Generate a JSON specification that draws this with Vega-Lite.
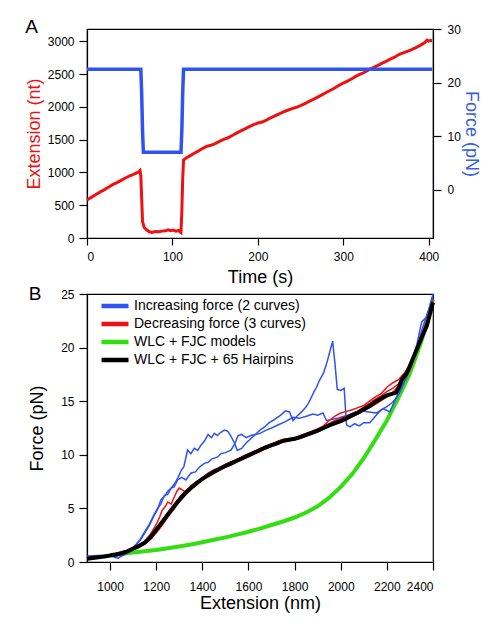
{
  "$schema": "https://vega.github.io/schema/vega-lite/v6.json",
  "padding": {"left": 24, "top": 17, "right": 10, "bottom": 0},
  "background": "white",
  "config": {
    "font": "Liberation Sans",
    "view": {"stroke": "black", "strokeWidth": 1.2},
    "axis": {
      "grid": false,
      "domainColor": "black",
      "tickColor": "black",
      "labelColor": "black",
      "labelFont": "Liberation Sans",
      "titleFont": "Liberation Sans",
      "labelFontSize": 12,
      "titleFontSize": 18,
      "titleFontWeight": "normal",
      "tickSize": 8,
      "labelPadding": 4,
      "domainWidth": 1.2,
      "tickWidth": 1.2,
      "format": "d"
    },
    "legend": {"labelFont": "Liberation Sans"}
  },
  "spacing": -3,
  "resolve": {"legend": {"color": "independent"}},
  "datasets": {
    "ext": [
      {"t": 0, "v": 580}, {"t": 5, "v": 620}, {"t": 10, "v": 660}, {"t": 15, "v": 700}, {"t": 20, "v": 735},
      {"t": 25, "v": 775}, {"t": 30, "v": 815}, {"t": 35, "v": 845}, {"t": 40, "v": 880}, {"t": 45, "v": 915},
      {"t": 50, "v": 950}, {"t": 55, "v": 975}, {"t": 60, "v": 1005}, {"t": 62, "v": 1030}, {"t": 63, "v": 950},
      {"t": 64, "v": 600}, {"t": 65, "v": 250}, {"t": 67, "v": 160}, {"t": 70, "v": 120}, {"t": 73, "v": 95},
      {"t": 76, "v": 85}, {"t": 80, "v": 100}, {"t": 84, "v": 95}, {"t": 88, "v": 105}, {"t": 92, "v": 110},
      {"t": 95, "v": 125}, {"t": 98, "v": 110}, {"t": 101, "v": 120}, {"t": 104, "v": 105}, {"t": 107, "v": 115},
      {"t": 110, "v": 85}, {"t": 111, "v": 400}, {"t": 112, "v": 900}, {"t": 113, "v": 1190}, {"t": 116, "v": 1220},
      {"t": 120, "v": 1250}, {"t": 125, "v": 1290}, {"t": 130, "v": 1325}, {"t": 135, "v": 1365}, {"t": 140, "v": 1398},
      {"t": 145, "v": 1415}, {"t": 150, "v": 1440}, {"t": 155, "v": 1475}, {"t": 160, "v": 1505}, {"t": 165, "v": 1530},
      {"t": 170, "v": 1565}, {"t": 175, "v": 1600}, {"t": 180, "v": 1635}, {"t": 185, "v": 1665}, {"t": 190, "v": 1700},
      {"t": 195, "v": 1730}, {"t": 200, "v": 1755}, {"t": 205, "v": 1770}, {"t": 210, "v": 1800}, {"t": 215, "v": 1835},
      {"t": 220, "v": 1865}, {"t": 225, "v": 1895}, {"t": 230, "v": 1925}, {"t": 235, "v": 1950}, {"t": 240, "v": 1975},
      {"t": 245, "v": 1995}, {"t": 250, "v": 2020}, {"t": 255, "v": 2050}, {"t": 260, "v": 2085}, {"t": 265, "v": 2115},
      {"t": 270, "v": 2150}, {"t": 275, "v": 2185}, {"t": 280, "v": 2220}, {"t": 285, "v": 2255}, {"t": 290, "v": 2290},
      {"t": 295, "v": 2330}, {"t": 300, "v": 2365}, {"t": 305, "v": 2395}, {"t": 310, "v": 2430}, {"t": 315, "v": 2470},
      {"t": 320, "v": 2500}, {"t": 325, "v": 2530}, {"t": 330, "v": 2570}, {"t": 335, "v": 2600}, {"t": 340, "v": 2630},
      {"t": 345, "v": 2665}, {"t": 350, "v": 2695}, {"t": 355, "v": 2730}, {"t": 360, "v": 2760}, {"t": 365, "v": 2800},
      {"t": 370, "v": 2825}, {"t": 375, "v": 2850}, {"t": 380, "v": 2875}, {"t": 385, "v": 2905}, {"t": 390, "v": 2940},
      {"t": 395, "v": 2980}, {"t": 398, "v": 3020}, {"t": 400, "v": 3005}, {"t": 402, "v": 3015}, {"t": 404, "v": 3010}
    ],
    "force": [
      {"t": 0, "f": 22.5}, {"t": 63, "f": 22.5}, {"t": 64, "f": 18}, {"t": 65, "f": 11}, {"t": 66, "f": 7.0},
      {"t": 110, "f": 7.0}, {"t": 111, "f": 11}, {"t": 112, "f": 18}, {"t": 113, "f": 22.5}, {"t": 404, "f": 22.5}
    ],
    "curves": [
      {"series": "WLC + FJC models", "curve": "g", "x": 1000, "f": 0.65},
      {"series": "WLC + FJC models", "curve": "g", "x": 1050, "f": 0.75},
      {"series": "WLC + FJC models", "curve": "g", "x": 1100, "f": 0.88},
      {"series": "WLC + FJC models", "curve": "g", "x": 1150, "f": 1.0},
      {"series": "WLC + FJC models", "curve": "g", "x": 1200, "f": 1.12},
      {"series": "WLC + FJC models", "curve": "g", "x": 1250, "f": 1.28},
      {"series": "WLC + FJC models", "curve": "g", "x": 1300, "f": 1.45},
      {"series": "WLC + FJC models", "curve": "g", "x": 1350, "f": 1.63},
      {"series": "WLC + FJC models", "curve": "g", "x": 1400, "f": 1.85},
      {"series": "WLC + FJC models", "curve": "g", "x": 1450, "f": 2.07},
      {"series": "WLC + FJC models", "curve": "g", "x": 1500, "f": 2.3},
      {"series": "WLC + FJC models", "curve": "g", "x": 1550, "f": 2.55},
      {"series": "WLC + FJC models", "curve": "g", "x": 1600, "f": 2.82},
      {"series": "WLC + FJC models", "curve": "g", "x": 1650, "f": 3.12},
      {"series": "WLC + FJC models", "curve": "g", "x": 1700, "f": 3.45},
      {"series": "WLC + FJC models", "curve": "g", "x": 1750, "f": 3.78},
      {"series": "WLC + FJC models", "curve": "g", "x": 1800, "f": 4.15},
      {"series": "WLC + FJC models", "curve": "g", "x": 1850, "f": 4.62},
      {"series": "WLC + FJC models", "curve": "g", "x": 1900, "f": 5.2},
      {"series": "WLC + FJC models", "curve": "g", "x": 1950, "f": 6.0},
      {"series": "WLC + FJC models", "curve": "g", "x": 2000, "f": 7.0},
      {"series": "WLC + FJC models", "curve": "g", "x": 2050, "f": 8.2},
      {"series": "WLC + FJC models", "curve": "g", "x": 2100, "f": 9.7},
      {"series": "WLC + FJC models", "curve": "g", "x": 2150, "f": 11.4},
      {"series": "WLC + FJC models", "curve": "g", "x": 2200, "f": 13.2},
      {"series": "WLC + FJC models", "curve": "g", "x": 2250, "f": 15.3},
      {"series": "WLC + FJC models", "curve": "g", "x": 2300, "f": 17.6},
      {"series": "WLC + FJC models", "curve": "g", "x": 2350, "f": 20.6},
      {"series": "WLC + FJC models", "curve": "g", "x": 2400, "f": 24.5},

      {"series": "Increasing force (2 curves)", "curve": "b1", "x": 900, "f": 0.55},
      {"series": "Increasing force (2 curves)", "curve": "b1", "x": 950, "f": 0.6},
      {"series": "Increasing force (2 curves)", "curve": "b1", "x": 1000, "f": 0.6},
      {"series": "Increasing force (2 curves)", "curve": "b1", "x": 1020, "f": 0.45},
      {"series": "Increasing force (2 curves)", "curve": "b1", "x": 1035, "f": 0.35},
      {"series": "Increasing force (2 curves)", "curve": "b1", "x": 1050, "f": 0.55},
      {"series": "Increasing force (2 curves)", "curve": "b1", "x": 1080, "f": 0.9},
      {"series": "Increasing force (2 curves)", "curve": "b1", "x": 1104, "f": 1.4},
      {"series": "Increasing force (2 curves)", "curve": "b1", "x": 1130, "f": 2.0},
      {"series": "Increasing force (2 curves)", "curve": "b1", "x": 1150, "f": 2.7},
      {"series": "Increasing force (2 curves)", "curve": "b1", "x": 1170, "f": 3.4},
      {"series": "Increasing force (2 curves)", "curve": "b1", "x": 1190, "f": 4.3},
      {"series": "Increasing force (2 curves)", "curve": "b1", "x": 1206, "f": 4.9},
      {"series": "Increasing force (2 curves)", "curve": "b1", "x": 1220, "f": 5.8},
      {"series": "Increasing force (2 curves)", "curve": "b1", "x": 1235, "f": 6.1},
      {"series": "Increasing force (2 curves)", "curve": "b1", "x": 1250, "f": 6.6},
      {"series": "Increasing force (2 curves)", "curve": "b1", "x": 1265, "f": 6.9},
      {"series": "Increasing force (2 curves)", "curve": "b1", "x": 1280, "f": 7.3},
      {"series": "Increasing force (2 curves)", "curve": "b1", "x": 1295, "f": 7.9},
      {"series": "Increasing force (2 curves)", "curve": "b1", "x": 1310, "f": 8.6},
      {"series": "Increasing force (2 curves)", "curve": "b1", "x": 1320, "f": 8.9},
      {"series": "Increasing force (2 curves)", "curve": "b1", "x": 1336, "f": 10.45},
      {"series": "Increasing force (2 curves)", "curve": "b1", "x": 1350, "f": 10.1},
      {"series": "Increasing force (2 curves)", "curve": "b1", "x": 1365, "f": 10.6},
      {"series": "Increasing force (2 curves)", "curve": "b1", "x": 1380, "f": 10.4},
      {"series": "Increasing force (2 curves)", "curve": "b1", "x": 1394, "f": 10.9},
      {"series": "Increasing force (2 curves)", "curve": "b1", "x": 1410, "f": 11.3},
      {"series": "Increasing force (2 curves)", "curve": "b1", "x": 1425, "f": 11.9},
      {"series": "Increasing force (2 curves)", "curve": "b1", "x": 1440, "f": 11.6},
      {"series": "Increasing force (2 curves)", "curve": "b1", "x": 1452, "f": 12.0},
      {"series": "Increasing force (2 curves)", "curve": "b1", "x": 1465, "f": 11.8},
      {"series": "Increasing force (2 curves)", "curve": "b1", "x": 1480, "f": 12.1},
      {"series": "Increasing force (2 curves)", "curve": "b1", "x": 1496, "f": 12.3},
      {"series": "Increasing force (2 curves)", "curve": "b1", "x": 1510, "f": 12.2},
      {"series": "Increasing force (2 curves)", "curve": "b1", "x": 1525, "f": 11.7},
      {"series": "Increasing force (2 curves)", "curve": "b1", "x": 1539, "f": 11.1},
      {"series": "Increasing force (2 curves)", "curve": "b1", "x": 1552, "f": 10.4},
      {"series": "Increasing force (2 curves)", "curve": "b1", "x": 1570, "f": 10.6},
      {"series": "Increasing force (2 curves)", "curve": "b1", "x": 1590, "f": 11.1},
      {"series": "Increasing force (2 curves)", "curve": "b1", "x": 1610, "f": 11.5},
      {"series": "Increasing force (2 curves)", "curve": "b1", "x": 1630, "f": 11.9},
      {"series": "Increasing force (2 curves)", "curve": "b1", "x": 1650, "f": 12.3},
      {"series": "Increasing force (2 curves)", "curve": "b1", "x": 1670, "f": 12.6},
      {"series": "Increasing force (2 curves)", "curve": "b1", "x": 1690, "f": 13.0},
      {"series": "Increasing force (2 curves)", "curve": "b1", "x": 1706, "f": 13.2},
      {"series": "Increasing force (2 curves)", "curve": "b1", "x": 1720, "f": 13.4},
      {"series": "Increasing force (2 curves)", "curve": "b1", "x": 1740, "f": 13.7},
      {"series": "Increasing force (2 curves)", "curve": "b1", "x": 1760, "f": 14.1},
      {"series": "Increasing force (2 curves)", "curve": "b1", "x": 1778, "f": 14.0},
      {"series": "Increasing force (2 curves)", "curve": "b1", "x": 1793, "f": 13.2},
      {"series": "Increasing force (2 curves)", "curve": "b1", "x": 1810, "f": 13.6},
      {"series": "Increasing force (2 curves)", "curve": "b1", "x": 1830, "f": 14.0},
      {"series": "Increasing force (2 curves)", "curve": "b1", "x": 1851, "f": 14.5},
      {"series": "Increasing force (2 curves)", "curve": "b1", "x": 1865, "f": 15.0},
      {"series": "Increasing force (2 curves)", "curve": "b1", "x": 1880, "f": 15.7},
      {"series": "Increasing force (2 curves)", "curve": "b1", "x": 1895, "f": 16.3},
      {"series": "Increasing force (2 curves)", "curve": "b1", "x": 1909, "f": 17.0},
      {"series": "Increasing force (2 curves)", "curve": "b1", "x": 1925, "f": 17.6},
      {"series": "Increasing force (2 curves)", "curve": "b1", "x": 1940, "f": 18.6},
      {"series": "Increasing force (2 curves)", "curve": "b1", "x": 1955, "f": 19.8},
      {"series": "Increasing force (2 curves)", "curve": "b1", "x": 1965, "f": 20.6},
      {"series": "Increasing force (2 curves)", "curve": "b1", "x": 1975, "f": 18.5},
      {"series": "Increasing force (2 curves)", "curve": "b1", "x": 1985, "f": 16.1},
      {"series": "Increasing force (2 curves)", "curve": "b1", "x": 2000, "f": 16.0},
      {"series": "Increasing force (2 curves)", "curve": "b1", "x": 2015, "f": 16.2},
      {"series": "Increasing force (2 curves)", "curve": "b1", "x": 2025, "f": 12.8},
      {"series": "Increasing force (2 curves)", "curve": "b1", "x": 2040, "f": 12.6},
      {"series": "Increasing force (2 curves)", "curve": "b1", "x": 2060, "f": 12.9},
      {"series": "Increasing force (2 curves)", "curve": "b1", "x": 2080, "f": 12.7},
      {"series": "Increasing force (2 curves)", "curve": "b1", "x": 2100, "f": 13.0},
      {"series": "Increasing force (2 curves)", "curve": "b1", "x": 2126, "f": 13.0},
      {"series": "Increasing force (2 curves)", "curve": "b1", "x": 2150, "f": 13.6},
      {"series": "Increasing force (2 curves)", "curve": "b1", "x": 2175, "f": 14.2},
      {"series": "Increasing force (2 curves)", "curve": "b1", "x": 2200, "f": 14.5},
      {"series": "Increasing force (2 curves)", "curve": "b1", "x": 2225, "f": 14.9},
      {"series": "Increasing force (2 curves)", "curve": "b1", "x": 2245, "f": 15.4},
      {"series": "Increasing force (2 curves)", "curve": "b1", "x": 2260, "f": 16.0},
      {"series": "Increasing force (2 curves)", "curve": "b1", "x": 2275, "f": 16.8},
      {"series": "Increasing force (2 curves)", "curve": "b1", "x": 2290, "f": 17.6},
      {"series": "Increasing force (2 curves)", "curve": "b1", "x": 2310, "f": 18.8},
      {"series": "Increasing force (2 curves)", "curve": "b1", "x": 2330, "f": 20.3},
      {"series": "Increasing force (2 curves)", "curve": "b1", "x": 2351, "f": 22.4},
      {"series": "Increasing force (2 curves)", "curve": "b1", "x": 2370, "f": 22.8},
      {"series": "Increasing force (2 curves)", "curve": "b1", "x": 2385, "f": 23.8},
      {"series": "Increasing force (2 curves)", "curve": "b1", "x": 2400, "f": 25.0},

      {"series": "Increasing force (2 curves)", "curve": "b2", "x": 900, "f": 0.5},
      {"series": "Increasing force (2 curves)", "curve": "b2", "x": 950, "f": 0.55},
      {"series": "Increasing force (2 curves)", "curve": "b2", "x": 1000, "f": 0.6},
      {"series": "Increasing force (2 curves)", "curve": "b2", "x": 1030, "f": 0.55},
      {"series": "Increasing force (2 curves)", "curve": "b2", "x": 1050, "f": 0.7},
      {"series": "Increasing force (2 curves)", "curve": "b2", "x": 1080, "f": 1.0},
      {"series": "Increasing force (2 curves)", "curve": "b2", "x": 1104, "f": 1.4},
      {"series": "Increasing force (2 curves)", "curve": "b2", "x": 1130, "f": 2.1},
      {"series": "Increasing force (2 curves)", "curve": "b2", "x": 1150, "f": 2.8},
      {"series": "Increasing force (2 curves)", "curve": "b2", "x": 1170, "f": 3.5},
      {"series": "Increasing force (2 curves)", "curve": "b2", "x": 1190, "f": 4.4},
      {"series": "Increasing force (2 curves)", "curve": "b2", "x": 1206, "f": 5.0},
      {"series": "Increasing force (2 curves)", "curve": "b2", "x": 1220, "f": 5.4},
      {"series": "Increasing force (2 curves)", "curve": "b2", "x": 1235, "f": 6.2},
      {"series": "Increasing force (2 curves)", "curve": "b2", "x": 1250, "f": 6.3},
      {"series": "Increasing force (2 curves)", "curve": "b2", "x": 1265, "f": 6.9},
      {"series": "Increasing force (2 curves)", "curve": "b2", "x": 1278, "f": 7.0},
      {"series": "Increasing force (2 curves)", "curve": "b2", "x": 1293, "f": 7.65},
      {"series": "Increasing force (2 curves)", "curve": "b2", "x": 1310, "f": 7.9},
      {"series": "Increasing force (2 curves)", "curve": "b2", "x": 1329, "f": 7.65},
      {"series": "Increasing force (2 curves)", "curve": "b2", "x": 1340, "f": 8.0},
      {"series": "Increasing force (2 curves)", "curve": "b2", "x": 1351, "f": 8.3},
      {"series": "Increasing force (2 curves)", "curve": "b2", "x": 1370, "f": 8.4},
      {"series": "Increasing force (2 curves)", "curve": "b2", "x": 1390, "f": 8.9},
      {"series": "Increasing force (2 curves)", "curve": "b2", "x": 1409, "f": 9.2},
      {"series": "Increasing force (2 curves)", "curve": "b2", "x": 1425, "f": 9.3},
      {"series": "Increasing force (2 curves)", "curve": "b2", "x": 1440, "f": 9.6},
      {"series": "Increasing force (2 curves)", "curve": "b2", "x": 1467, "f": 9.8},
      {"series": "Increasing force (2 curves)", "curve": "b2", "x": 1480, "f": 10.1},
      {"series": "Increasing force (2 curves)", "curve": "b2", "x": 1500, "f": 10.2},
      {"series": "Increasing force (2 curves)", "curve": "b2", "x": 1525, "f": 10.45},
      {"series": "Increasing force (2 curves)", "curve": "b2", "x": 1540, "f": 11.0},
      {"series": "Increasing force (2 curves)", "curve": "b2", "x": 1555, "f": 11.8},
      {"series": "Increasing force (2 curves)", "curve": "b2", "x": 1570, "f": 11.9},
      {"series": "Increasing force (2 curves)", "curve": "b2", "x": 1590, "f": 11.6},
      {"series": "Increasing force (2 curves)", "curve": "b2", "x": 1610, "f": 11.8},
      {"series": "Increasing force (2 curves)", "curve": "b2", "x": 1630, "f": 11.9},
      {"series": "Increasing force (2 curves)", "curve": "b2", "x": 1650, "f": 12.0},
      {"series": "Increasing force (2 curves)", "curve": "b2", "x": 1677, "f": 12.3},
      {"series": "Increasing force (2 curves)", "curve": "b2", "x": 1700, "f": 12.5},
      {"series": "Increasing force (2 curves)", "curve": "b2", "x": 1730, "f": 12.8},
      {"series": "Increasing force (2 curves)", "curve": "b2", "x": 1760, "f": 13.1},
      {"series": "Increasing force (2 curves)", "curve": "b2", "x": 1793, "f": 13.5},
      {"series": "Increasing force (2 curves)", "curve": "b2", "x": 1820, "f": 13.4},
      {"series": "Increasing force (2 curves)", "curve": "b2", "x": 1851, "f": 13.6},
      {"series": "Increasing force (2 curves)", "curve": "b2", "x": 1880, "f": 13.8},
      {"series": "Increasing force (2 curves)", "curve": "b2", "x": 1900, "f": 13.7},
      {"series": "Increasing force (2 curves)", "curve": "b2", "x": 1923, "f": 13.9},
      {"series": "Increasing force (2 curves)", "curve": "b2", "x": 1938, "f": 13.2},
      {"series": "Increasing force (2 curves)", "curve": "b2", "x": 1960, "f": 13.3},
      {"series": "Increasing force (2 curves)", "curve": "b2", "x": 1985, "f": 13.4},
      {"series": "Increasing force (2 curves)", "curve": "b2", "x": 2000, "f": 13.5},
      {"series": "Increasing force (2 curves)", "curve": "b2", "x": 2030, "f": 13.7},
      {"series": "Increasing force (2 curves)", "curve": "b2", "x": 2060, "f": 13.9},
      {"series": "Increasing force (2 curves)", "curve": "b2", "x": 2090, "f": 14.1},
      {"series": "Increasing force (2 curves)", "curve": "b2", "x": 2120, "f": 14.0},
      {"series": "Increasing force (2 curves)", "curve": "b2", "x": 2155, "f": 13.9},
      {"series": "Increasing force (2 curves)", "curve": "b2", "x": 2185, "f": 14.3},
      {"series": "Increasing force (2 curves)", "curve": "b2", "x": 2213, "f": 14.0},
      {"series": "Increasing force (2 curves)", "curve": "b2", "x": 2242, "f": 15.4},
      {"series": "Increasing force (2 curves)", "curve": "b2", "x": 2270, "f": 16.7},
      {"series": "Increasing force (2 curves)", "curve": "b2", "x": 2285, "f": 17.2},
      {"series": "Increasing force (2 curves)", "curve": "b2", "x": 2300, "f": 18.0},
      {"series": "Increasing force (2 curves)", "curve": "b2", "x": 2320, "f": 19.3},
      {"series": "Increasing force (2 curves)", "curve": "b2", "x": 2340, "f": 20.8},
      {"series": "Increasing force (2 curves)", "curve": "b2", "x": 2360, "f": 22.2},
      {"series": "Increasing force (2 curves)", "curve": "b2", "x": 2380, "f": 23.4},
      {"series": "Increasing force (2 curves)", "curve": "b2", "x": 2400, "f": 24.6},

      {"series": "Decreasing force (3 curves)", "curve": "r1", "x": 900, "f": 0.4},
      {"series": "Decreasing force (3 curves)", "curve": "r1", "x": 925, "f": 0.42},
      {"series": "Decreasing force (3 curves)", "curve": "r1", "x": 950, "f": 0.5},
      {"series": "Decreasing force (3 curves)", "curve": "r1", "x": 975, "f": 0.55},
      {"series": "Decreasing force (3 curves)", "curve": "r1", "x": 1000, "f": 0.62},
      {"series": "Decreasing force (3 curves)", "curve": "r1", "x": 1025, "f": 0.75},
      {"series": "Decreasing force (3 curves)", "curve": "r1", "x": 1050, "f": 0.9},
      {"series": "Decreasing force (3 curves)", "curve": "r1", "x": 1075, "f": 1.05},
      {"series": "Decreasing force (3 curves)", "curve": "r1", "x": 1100, "f": 1.2},
      {"series": "Decreasing force (3 curves)", "curve": "r1", "x": 1125, "f": 1.55},
      {"series": "Decreasing force (3 curves)", "curve": "r1", "x": 1150, "f": 1.95},
      {"series": "Decreasing force (3 curves)", "curve": "r1", "x": 1175, "f": 2.6},
      {"series": "Decreasing force (3 curves)", "curve": "r1", "x": 1200, "f": 3.5},
      {"series": "Decreasing force (3 curves)", "curve": "r1", "x": 1215, "f": 4.2},
      {"series": "Decreasing force (3 curves)", "curve": "r1", "x": 1225, "f": 4.8},
      {"series": "Decreasing force (3 curves)", "curve": "r1", "x": 1240, "f": 5.2},
      {"series": "Decreasing force (3 curves)", "curve": "r1", "x": 1250, "f": 5.6},
      {"series": "Decreasing force (3 curves)", "curve": "r1", "x": 1265, "f": 5.4},
      {"series": "Decreasing force (3 curves)", "curve": "r1", "x": 1275, "f": 5.9},
      {"series": "Decreasing force (3 curves)", "curve": "r1", "x": 1290, "f": 6.6},
      {"series": "Decreasing force (3 curves)", "curve": "r1", "x": 1300, "f": 6.9},
      {"series": "Decreasing force (3 curves)", "curve": "r1", "x": 1315, "f": 6.7},
      {"series": "Decreasing force (3 curves)", "curve": "r1", "x": 1325, "f": 6.55},
      {"series": "Decreasing force (3 curves)", "curve": "r1", "x": 1340, "f": 6.8},
      {"series": "Decreasing force (3 curves)", "curve": "r1", "x": 1350, "f": 7.1},
      {"series": "Decreasing force (3 curves)", "curve": "r1", "x": 1375, "f": 7.5},
      {"series": "Decreasing force (3 curves)", "curve": "r1", "x": 1400, "f": 7.8},
      {"series": "Decreasing force (3 curves)", "curve": "r1", "x": 1425, "f": 8.25},
      {"series": "Decreasing force (3 curves)", "curve": "r1", "x": 1450, "f": 8.5},
      {"series": "Decreasing force (3 curves)", "curve": "r1", "x": 1475, "f": 8.8},
      {"series": "Decreasing force (3 curves)", "curve": "r1", "x": 1500, "f": 9.1},
      {"series": "Decreasing force (3 curves)", "curve": "r1", "x": 1525, "f": 9.3},
      {"series": "Decreasing force (3 curves)", "curve": "r1", "x": 1550, "f": 9.6},
      {"series": "Decreasing force (3 curves)", "curve": "r1", "x": 1575, "f": 9.8},
      {"series": "Decreasing force (3 curves)", "curve": "r1", "x": 1600, "f": 10.05},
      {"series": "Decreasing force (3 curves)", "curve": "r1", "x": 1625, "f": 10.3},
      {"series": "Decreasing force (3 curves)", "curve": "r1", "x": 1650, "f": 10.5},
      {"series": "Decreasing force (3 curves)", "curve": "r1", "x": 1675, "f": 10.8},
      {"series": "Decreasing force (3 curves)", "curve": "r1", "x": 1700, "f": 10.95},
      {"series": "Decreasing force (3 curves)", "curve": "r1", "x": 1725, "f": 11.2},
      {"series": "Decreasing force (3 curves)", "curve": "r1", "x": 1750, "f": 11.35},
      {"series": "Decreasing force (3 curves)", "curve": "r1", "x": 1775, "f": 11.35},
      {"series": "Decreasing force (3 curves)", "curve": "r1", "x": 1800, "f": 11.55},
      {"series": "Decreasing force (3 curves)", "curve": "r1", "x": 1825, "f": 11.75},
      {"series": "Decreasing force (3 curves)", "curve": "r1", "x": 1850, "f": 11.95},
      {"series": "Decreasing force (3 curves)", "curve": "r1", "x": 1875, "f": 12.15},
      {"series": "Decreasing force (3 curves)", "curve": "r1", "x": 1900, "f": 12.4},
      {"series": "Decreasing force (3 curves)", "curve": "r1", "x": 1925, "f": 12.65},
      {"series": "Decreasing force (3 curves)", "curve": "r1", "x": 1950, "f": 12.9},
      {"series": "Decreasing force (3 curves)", "curve": "r1", "x": 1975, "f": 13.2},
      {"series": "Decreasing force (3 curves)", "curve": "r1", "x": 2000, "f": 13.4},
      {"series": "Decreasing force (3 curves)", "curve": "r1", "x": 2025, "f": 13.6},
      {"series": "Decreasing force (3 curves)", "curve": "r1", "x": 2050, "f": 13.85},
      {"series": "Decreasing force (3 curves)", "curve": "r1", "x": 2075, "f": 14.1},
      {"series": "Decreasing force (3 curves)", "curve": "r1", "x": 2100, "f": 14.45},
      {"series": "Decreasing force (3 curves)", "curve": "r1", "x": 2125, "f": 14.8},
      {"series": "Decreasing force (3 curves)", "curve": "r1", "x": 2150, "f": 15.2},
      {"series": "Decreasing force (3 curves)", "curve": "r1", "x": 2175, "f": 15.5},
      {"series": "Decreasing force (3 curves)", "curve": "r1", "x": 2200, "f": 15.9},
      {"series": "Decreasing force (3 curves)", "curve": "r1", "x": 2225, "f": 16.2},
      {"series": "Decreasing force (3 curves)", "curve": "r1", "x": 2250, "f": 16.6},
      {"series": "Decreasing force (3 curves)", "curve": "r1", "x": 2275, "f": 17.4},
      {"series": "Decreasing force (3 curves)", "curve": "r1", "x": 2300, "f": 18.2},
      {"series": "Decreasing force (3 curves)", "curve": "r1", "x": 2325, "f": 19.6},
      {"series": "Decreasing force (3 curves)", "curve": "r1", "x": 2350, "f": 21.0},
      {"series": "Decreasing force (3 curves)", "curve": "r1", "x": 2375, "f": 22.4},
      {"series": "Decreasing force (3 curves)", "curve": "r1", "x": 2400, "f": 24.3},

      {"series": "Decreasing force (3 curves)", "curve": "r2", "x": 900, "f": 0.35},
      {"series": "Decreasing force (3 curves)", "curve": "r2", "x": 925, "f": 0.4},
      {"series": "Decreasing force (3 curves)", "curve": "r2", "x": 950, "f": 0.48},
      {"series": "Decreasing force (3 curves)", "curve": "r2", "x": 975, "f": 0.58},
      {"series": "Decreasing force (3 curves)", "curve": "r2", "x": 1000, "f": 0.68},
      {"series": "Decreasing force (3 curves)", "curve": "r2", "x": 1025, "f": 0.8},
      {"series": "Decreasing force (3 curves)", "curve": "r2", "x": 1050, "f": 0.95},
      {"series": "Decreasing force (3 curves)", "curve": "r2", "x": 1075, "f": 1.1},
      {"series": "Decreasing force (3 curves)", "curve": "r2", "x": 1100, "f": 1.3},
      {"series": "Decreasing force (3 curves)", "curve": "r2", "x": 1125, "f": 1.45},
      {"series": "Decreasing force (3 curves)", "curve": "r2", "x": 1150, "f": 1.7},
      {"series": "Decreasing force (3 curves)", "curve": "r2", "x": 1175, "f": 2.2},
      {"series": "Decreasing force (3 curves)", "curve": "r2", "x": 1200, "f": 2.9},
      {"series": "Decreasing force (3 curves)", "curve": "r2", "x": 1225, "f": 3.8},
      {"series": "Decreasing force (3 curves)", "curve": "r2", "x": 1250, "f": 4.6},
      {"series": "Decreasing force (3 curves)", "curve": "r2", "x": 1275, "f": 5.3},
      {"series": "Decreasing force (3 curves)", "curve": "r2", "x": 1300, "f": 6.0},
      {"series": "Decreasing force (3 curves)", "curve": "r2", "x": 1325, "f": 6.6},
      {"series": "Decreasing force (3 curves)", "curve": "r2", "x": 1350, "f": 7.0},
      {"series": "Decreasing force (3 curves)", "curve": "r2", "x": 1375, "f": 7.5},
      {"series": "Decreasing force (3 curves)", "curve": "r2", "x": 1400, "f": 7.7},
      {"series": "Decreasing force (3 curves)", "curve": "r2", "x": 1425, "f": 8.3},
      {"series": "Decreasing force (3 curves)", "curve": "r2", "x": 1450, "f": 8.6},
      {"series": "Decreasing force (3 curves)", "curve": "r2", "x": 1475, "f": 8.75},
      {"series": "Decreasing force (3 curves)", "curve": "r2", "x": 1500, "f": 9.1},
      {"series": "Decreasing force (3 curves)", "curve": "r2", "x": 1525, "f": 9.35},
      {"series": "Decreasing force (3 curves)", "curve": "r2", "x": 1550, "f": 9.5},
      {"series": "Decreasing force (3 curves)", "curve": "r2", "x": 1575, "f": 9.85},
      {"series": "Decreasing force (3 curves)", "curve": "r2", "x": 1600, "f": 10.1},
      {"series": "Decreasing force (3 curves)", "curve": "r2", "x": 1625, "f": 10.25},
      {"series": "Decreasing force (3 curves)", "curve": "r2", "x": 1650, "f": 10.6},
      {"series": "Decreasing force (3 curves)", "curve": "r2", "x": 1675, "f": 10.8},
      {"series": "Decreasing force (3 curves)", "curve": "r2", "x": 1700, "f": 10.95},
      {"series": "Decreasing force (3 curves)", "curve": "r2", "x": 1725, "f": 11.25},
      {"series": "Decreasing force (3 curves)", "curve": "r2", "x": 1750, "f": 11.45},
      {"series": "Decreasing force (3 curves)", "curve": "r2", "x": 1775, "f": 11.5},
      {"series": "Decreasing force (3 curves)", "curve": "r2", "x": 1800, "f": 11.55},
      {"series": "Decreasing force (3 curves)", "curve": "r2", "x": 1825, "f": 11.8},
      {"series": "Decreasing force (3 curves)", "curve": "r2", "x": 1850, "f": 12.0},
      {"series": "Decreasing force (3 curves)", "curve": "r2", "x": 1875, "f": 12.2},
      {"series": "Decreasing force (3 curves)", "curve": "r2", "x": 1900, "f": 12.4},
      {"series": "Decreasing force (3 curves)", "curve": "r2", "x": 1925, "f": 12.7},
      {"series": "Decreasing force (3 curves)", "curve": "r2", "x": 1950, "f": 13.2},
      {"series": "Decreasing force (3 curves)", "curve": "r2", "x": 1975, "f": 13.6},
      {"series": "Decreasing force (3 curves)", "curve": "r2", "x": 2000, "f": 13.9},
      {"series": "Decreasing force (3 curves)", "curve": "r2", "x": 2025, "f": 14.05},
      {"series": "Decreasing force (3 curves)", "curve": "r2", "x": 2050, "f": 14.2},
      {"series": "Decreasing force (3 curves)", "curve": "r2", "x": 2075, "f": 14.4},
      {"series": "Decreasing force (3 curves)", "curve": "r2", "x": 2100, "f": 14.6},
      {"series": "Decreasing force (3 curves)", "curve": "r2", "x": 2125, "f": 15.0},
      {"series": "Decreasing force (3 curves)", "curve": "r2", "x": 2150, "f": 15.4},
      {"series": "Decreasing force (3 curves)", "curve": "r2", "x": 2175, "f": 15.7},
      {"series": "Decreasing force (3 curves)", "curve": "r2", "x": 2200, "f": 16.3},
      {"series": "Decreasing force (3 curves)", "curve": "r2", "x": 2225, "f": 16.7},
      {"series": "Decreasing force (3 curves)", "curve": "r2", "x": 2250, "f": 17.0},
      {"series": "Decreasing force (3 curves)", "curve": "r2", "x": 2275, "f": 17.6},
      {"series": "Decreasing force (3 curves)", "curve": "r2", "x": 2300, "f": 18.4},
      {"series": "Decreasing force (3 curves)", "curve": "r2", "x": 2325, "f": 19.8},
      {"series": "Decreasing force (3 curves)", "curve": "r2", "x": 2350, "f": 21.2},
      {"series": "Decreasing force (3 curves)", "curve": "r2", "x": 2375, "f": 22.6},
      {"series": "Decreasing force (3 curves)", "curve": "r2", "x": 2400, "f": 24.4},

      {"series": "Decreasing force (3 curves)", "curve": "r3", "x": 900, "f": 0.3},
      {"series": "Decreasing force (3 curves)", "curve": "r3", "x": 925, "f": 0.35},
      {"series": "Decreasing force (3 curves)", "curve": "r3", "x": 950, "f": 0.42},
      {"series": "Decreasing force (3 curves)", "curve": "r3", "x": 975, "f": 0.5},
      {"series": "Decreasing force (3 curves)", "curve": "r3", "x": 1000, "f": 0.58},
      {"series": "Decreasing force (3 curves)", "curve": "r3", "x": 1025, "f": 0.68},
      {"series": "Decreasing force (3 curves)", "curve": "r3", "x": 1050, "f": 0.78},
      {"series": "Decreasing force (3 curves)", "curve": "r3", "x": 1075, "f": 0.95},
      {"series": "Decreasing force (3 curves)", "curve": "r3", "x": 1100, "f": 1.15},
      {"series": "Decreasing force (3 curves)", "curve": "r3", "x": 1125, "f": 1.35},
      {"series": "Decreasing force (3 curves)", "curve": "r3", "x": 1150, "f": 1.65},
      {"series": "Decreasing force (3 curves)", "curve": "r3", "x": 1175, "f": 2.1},
      {"series": "Decreasing force (3 curves)", "curve": "r3", "x": 1200, "f": 2.7},
      {"series": "Decreasing force (3 curves)", "curve": "r3", "x": 1225, "f": 3.4},
      {"series": "Decreasing force (3 curves)", "curve": "r3", "x": 1250, "f": 4.2},
      {"series": "Decreasing force (3 curves)", "curve": "r3", "x": 1275, "f": 4.9},
      {"series": "Decreasing force (3 curves)", "curve": "r3", "x": 1300, "f": 5.6},
      {"series": "Decreasing force (3 curves)", "curve": "r3", "x": 1325, "f": 6.2},
      {"series": "Decreasing force (3 curves)", "curve": "r3", "x": 1350, "f": 6.75},
      {"series": "Decreasing force (3 curves)", "curve": "r3", "x": 1375, "f": 7.2},
      {"series": "Decreasing force (3 curves)", "curve": "r3", "x": 1400, "f": 7.65},
      {"series": "Decreasing force (3 curves)", "curve": "r3", "x": 1425, "f": 7.95},
      {"series": "Decreasing force (3 curves)", "curve": "r3", "x": 1450, "f": 8.3},
      {"series": "Decreasing force (3 curves)", "curve": "r3", "x": 1475, "f": 8.55},
      {"series": "Decreasing force (3 curves)", "curve": "r3", "x": 1500, "f": 8.85},
      {"series": "Decreasing force (3 curves)", "curve": "r3", "x": 1525, "f": 9.05},
      {"series": "Decreasing force (3 curves)", "curve": "r3", "x": 1550, "f": 9.35},
      {"series": "Decreasing force (3 curves)", "curve": "r3", "x": 1575, "f": 9.55},
      {"series": "Decreasing force (3 curves)", "curve": "r3", "x": 1600, "f": 9.85},
      {"series": "Decreasing force (3 curves)", "curve": "r3", "x": 1625, "f": 10.1},
      {"series": "Decreasing force (3 curves)", "curve": "r3", "x": 1650, "f": 10.3},
      {"series": "Decreasing force (3 curves)", "curve": "r3", "x": 1675, "f": 10.55},
      {"series": "Decreasing force (3 curves)", "curve": "r3", "x": 1700, "f": 10.8},
      {"series": "Decreasing force (3 curves)", "curve": "r3", "x": 1725, "f": 10.95},
      {"series": "Decreasing force (3 curves)", "curve": "r3", "x": 1750, "f": 11.2},
      {"series": "Decreasing force (3 curves)", "curve": "r3", "x": 1775, "f": 11.3},
      {"series": "Decreasing force (3 curves)", "curve": "r3", "x": 1800, "f": 11.4},
      {"series": "Decreasing force (3 curves)", "curve": "r3", "x": 1825, "f": 11.55},
      {"series": "Decreasing force (3 curves)", "curve": "r3", "x": 1850, "f": 11.75},
      {"series": "Decreasing force (3 curves)", "curve": "r3", "x": 1875, "f": 11.95},
      {"series": "Decreasing force (3 curves)", "curve": "r3", "x": 1900, "f": 12.15},
      {"series": "Decreasing force (3 curves)", "curve": "r3", "x": 1925, "f": 12.4},
      {"series": "Decreasing force (3 curves)", "curve": "r3", "x": 1950, "f": 12.65},
      {"series": "Decreasing force (3 curves)", "curve": "r3", "x": 1975, "f": 12.85},
      {"series": "Decreasing force (3 curves)", "curve": "r3", "x": 2000, "f": 13.05},
      {"series": "Decreasing force (3 curves)", "curve": "r3", "x": 2025, "f": 13.3},
      {"series": "Decreasing force (3 curves)", "curve": "r3", "x": 2050, "f": 13.55},
      {"series": "Decreasing force (3 curves)", "curve": "r3", "x": 2075, "f": 13.8},
      {"series": "Decreasing force (3 curves)", "curve": "r3", "x": 2100, "f": 14.1},
      {"series": "Decreasing force (3 curves)", "curve": "r3", "x": 2125, "f": 14.4},
      {"series": "Decreasing force (3 curves)", "curve": "r3", "x": 2150, "f": 14.7},
      {"series": "Decreasing force (3 curves)", "curve": "r3", "x": 2175, "f": 15.05},
      {"series": "Decreasing force (3 curves)", "curve": "r3", "x": 2200, "f": 15.4},
      {"series": "Decreasing force (3 curves)", "curve": "r3", "x": 2225, "f": 15.8},
      {"series": "Decreasing force (3 curves)", "curve": "r3", "x": 2250, "f": 16.4},
      {"series": "Decreasing force (3 curves)", "curve": "r3", "x": 2275, "f": 17.1},
      {"series": "Decreasing force (3 curves)", "curve": "r3", "x": 2300, "f": 17.9},
      {"series": "Decreasing force (3 curves)", "curve": "r3", "x": 2325, "f": 19.4},
      {"series": "Decreasing force (3 curves)", "curve": "r3", "x": 2350, "f": 21.0},
      {"series": "Decreasing force (3 curves)", "curve": "r3", "x": 2375, "f": 22.5},
      {"series": "Decreasing force (3 curves)", "curve": "r3", "x": 2400, "f": 24.2},

      {"series": "WLC + FJC + 65 Hairpins", "curve": "k", "x": 900, "f": 0.3},
      {"series": "WLC + FJC + 65 Hairpins", "curve": "k", "x": 925, "f": 0.38},
      {"series": "WLC + FJC + 65 Hairpins", "curve": "k", "x": 950, "f": 0.45},
      {"series": "WLC + FJC + 65 Hairpins", "curve": "k", "x": 975, "f": 0.52},
      {"series": "WLC + FJC + 65 Hairpins", "curve": "k", "x": 1000, "f": 0.6},
      {"series": "WLC + FJC + 65 Hairpins", "curve": "k", "x": 1025, "f": 0.7},
      {"series": "WLC + FJC + 65 Hairpins", "curve": "k", "x": 1050, "f": 0.82},
      {"series": "WLC + FJC + 65 Hairpins", "curve": "k", "x": 1075, "f": 1.0},
      {"series": "WLC + FJC + 65 Hairpins", "curve": "k", "x": 1100, "f": 1.25},
      {"series": "WLC + FJC + 65 Hairpins", "curve": "k", "x": 1125, "f": 1.5},
      {"series": "WLC + FJC + 65 Hairpins", "curve": "k", "x": 1150, "f": 1.8},
      {"series": "WLC + FJC + 65 Hairpins", "curve": "k", "x": 1175, "f": 2.3},
      {"series": "WLC + FJC + 65 Hairpins", "curve": "k", "x": 1200, "f": 3.0},
      {"series": "WLC + FJC + 65 Hairpins", "curve": "k", "x": 1225, "f": 3.7},
      {"series": "WLC + FJC + 65 Hairpins", "curve": "k", "x": 1250, "f": 4.4},
      {"series": "WLC + FJC + 65 Hairpins", "curve": "k", "x": 1275, "f": 5.1},
      {"series": "WLC + FJC + 65 Hairpins", "curve": "k", "x": 1300, "f": 5.8},
      {"series": "WLC + FJC + 65 Hairpins", "curve": "k", "x": 1325, "f": 6.4},
      {"series": "WLC + FJC + 65 Hairpins", "curve": "k", "x": 1350, "f": 6.9},
      {"series": "WLC + FJC + 65 Hairpins", "curve": "k", "x": 1375, "f": 7.35},
      {"series": "WLC + FJC + 65 Hairpins", "curve": "k", "x": 1400, "f": 7.75},
      {"series": "WLC + FJC + 65 Hairpins", "curve": "k", "x": 1425, "f": 8.1},
      {"series": "WLC + FJC + 65 Hairpins", "curve": "k", "x": 1450, "f": 8.4},
      {"series": "WLC + FJC + 65 Hairpins", "curve": "k", "x": 1475, "f": 8.7},
      {"series": "WLC + FJC + 65 Hairpins", "curve": "k", "x": 1500, "f": 8.95},
      {"series": "WLC + FJC + 65 Hairpins", "curve": "k", "x": 1525, "f": 9.2},
      {"series": "WLC + FJC + 65 Hairpins", "curve": "k", "x": 1550, "f": 9.45},
      {"series": "WLC + FJC + 65 Hairpins", "curve": "k", "x": 1575, "f": 9.7},
      {"series": "WLC + FJC + 65 Hairpins", "curve": "k", "x": 1600, "f": 9.95},
      {"series": "WLC + FJC + 65 Hairpins", "curve": "k", "x": 1625, "f": 10.2},
      {"series": "WLC + FJC + 65 Hairpins", "curve": "k", "x": 1650, "f": 10.45},
      {"series": "WLC + FJC + 65 Hairpins", "curve": "k", "x": 1675, "f": 10.7},
      {"series": "WLC + FJC + 65 Hairpins", "curve": "k", "x": 1700, "f": 10.9},
      {"series": "WLC + FJC + 65 Hairpins", "curve": "k", "x": 1725, "f": 11.1},
      {"series": "WLC + FJC + 65 Hairpins", "curve": "k", "x": 1750, "f": 11.3},
      {"series": "WLC + FJC + 65 Hairpins", "curve": "k", "x": 1775, "f": 11.4},
      {"series": "WLC + FJC + 65 Hairpins", "curve": "k", "x": 1800, "f": 11.5},
      {"series": "WLC + FJC + 65 Hairpins", "curve": "k", "x": 1825, "f": 11.65},
      {"series": "WLC + FJC + 65 Hairpins", "curve": "k", "x": 1850, "f": 11.85},
      {"series": "WLC + FJC + 65 Hairpins", "curve": "k", "x": 1875, "f": 12.05},
      {"series": "WLC + FJC + 65 Hairpins", "curve": "k", "x": 1900, "f": 12.25},
      {"series": "WLC + FJC + 65 Hairpins", "curve": "k", "x": 1925, "f": 12.5},
      {"series": "WLC + FJC + 65 Hairpins", "curve": "k", "x": 1950, "f": 12.75},
      {"series": "WLC + FJC + 65 Hairpins", "curve": "k", "x": 1975, "f": 12.95},
      {"series": "WLC + FJC + 65 Hairpins", "curve": "k", "x": 2000, "f": 13.15},
      {"series": "WLC + FJC + 65 Hairpins", "curve": "k", "x": 2025, "f": 13.4},
      {"series": "WLC + FJC + 65 Hairpins", "curve": "k", "x": 2050, "f": 13.7},
      {"series": "WLC + FJC + 65 Hairpins", "curve": "k", "x": 2075, "f": 13.95},
      {"series": "WLC + FJC + 65 Hairpins", "curve": "k", "x": 2100, "f": 14.25},
      {"series": "WLC + FJC + 65 Hairpins", "curve": "k", "x": 2125, "f": 14.55},
      {"series": "WLC + FJC + 65 Hairpins", "curve": "k", "x": 2150, "f": 14.95},
      {"series": "WLC + FJC + 65 Hairpins", "curve": "k", "x": 2175, "f": 15.25},
      {"series": "WLC + FJC + 65 Hairpins", "curve": "k", "x": 2200, "f": 15.55},
      {"series": "WLC + FJC + 65 Hairpins", "curve": "k", "x": 2225, "f": 15.7},
      {"series": "WLC + FJC + 65 Hairpins", "curve": "k", "x": 2240, "f": 15.8},
      {"series": "WLC + FJC + 65 Hairpins", "curve": "k", "x": 2250, "f": 16.2},
      {"series": "WLC + FJC + 65 Hairpins", "curve": "k", "x": 2264, "f": 17.0},
      {"series": "WLC + FJC + 65 Hairpins", "curve": "k", "x": 2286, "f": 17.6},
      {"series": "WLC + FJC + 65 Hairpins", "curve": "k", "x": 2300, "f": 18.3},
      {"series": "WLC + FJC + 65 Hairpins", "curve": "k", "x": 2329, "f": 19.8},
      {"series": "WLC + FJC + 65 Hairpins", "curve": "k", "x": 2350, "f": 20.9},
      {"series": "WLC + FJC + 65 Hairpins", "curve": "k", "x": 2373, "f": 22.0},
      {"series": "WLC + FJC + 65 Hairpins", "curve": "k", "x": 2400, "f": 24.2}
    ]
  },
  "vconcat": [
    {
      "width": 346,
      "height": 209,
      "title": {"text": "A", "anchor": "start", "frame": "bounds", "fontSize": 19, "fontWeight": "normal", "font": "Liberation Sans", "offset": 0, "dy": 14},
      "layer": [
        {
          "data": {"name": "ext"},
          "mark": {"type": "line", "color": "#ee1111", "strokeWidth": 3},
          "encoding": {
            "x": {"field": "t", "type": "quantitative", "scale": {"domain": [0, 405], "nice": false},
              "axis": {"values": [0, 100, 200, 300, 400], "title": "Time (s)", "titlePadding": 6, "labelPadding": 6, "tickSize": 7}},
            "y": {"field": "v", "type": "quantitative", "scale": {"domain": [0, 3190], "nice": false},
              "axis": {"values": [0, 500, 1000, 1500, 2000, 2500, 3000], "title": "Extension (nt)", "titleColor": "#ee1111", "titlePadding": 4, "labelPadding": 5}}
          }
        },
        {
          "data": {"name": "force"},
          "mark": {"type": "line", "color": "#2f52f0", "strokeWidth": 3.5},
          "encoding": {
            "x": {"field": "t", "type": "quantitative"},
            "y": {"field": "f", "type": "quantitative", "scale": {"domain": [-9, 30], "nice": false},
              "axis": {"orient": "right", "values": [0, 10, 20, 30], "title": "Force (pN)", "titleColor": "#3a5fe0", "titlePadding": 1, "labelPadding": 6}}
          }
        }
      ],
      "resolve": {"scale": {"y": "independent"}}
    },
    {
      "width": 346,
      "height": 268,
      "title": {"text": "B", "anchor": "start", "frame": "bounds", "fontSize": 19, "fontWeight": "normal", "font": "Liberation Sans", "offset": 0, "dy": 16},
      "data": {"name": "curves"},
      "encoding": {
        "x": {"field": "x", "type": "quantitative", "scale": {"domain": [900, 2400], "nice": false},
          "axis": {"values": [1000, 1200, 1400, 1600, 1800, 2000, 2200, 2400], "title": "Extension (nm)", "titlePadding": 2, "labelPadding": 11}},
        "y": {"field": "f", "type": "quantitative", "scale": {"domain": [0, 25], "nice": false},
          "axis": {"values": [0, 5, 10, 15, 20, 25], "title": "Force (pN)", "titlePadding": 14, "labelPadding": 5}},
        "color": {"field": "series", "type": "nominal",
          "scale": {"domain": ["Increasing force (2 curves)", "Decreasing force (3 curves)", "WLC + FJC models", "WLC + FJC + 65 Hairpins"],
                    "range": ["#2f52f0", "#ee1111", "#33dd11", "#000000"]},
          "legend": {"title": null, "orient": "none", "legendX": 21, "legendY": 5, "labelFontSize": 14, "labelColor": "black", "labelLimit": 0,
                     "symbolType": "M-3.375,0H3.375", "symbolSize": 64, "symbolStrokeWidth": 4.5, "labelOffset": 12, "rowPadding": 0}},
        "detail": {"field": "curve", "type": "nominal"}
      },
      "layer": [
        {"transform": [{"filter": "datum.series === 'WLC + FJC models'"}], "mark": {"type": "line", "strokeWidth": 4}},
        {"transform": [{"filter": "datum.series === 'Increasing force (2 curves)' || datum.series === 'Decreasing force (3 curves)'"}], "mark": {"type": "line", "strokeWidth": 1.5}},
        {"transform": [{"filter": "datum.series === 'WLC + FJC + 65 Hairpins'"}], "mark": {"type": "line", "strokeWidth": 4}}
      ]
    }
  ]
}
